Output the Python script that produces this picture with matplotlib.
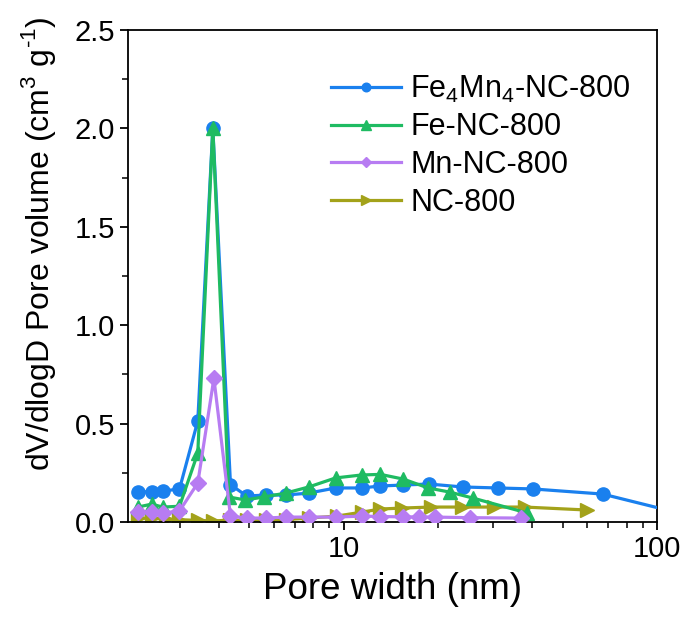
import matplotlib
matplotlib.use("Agg")
import matplotlib.pyplot as plt
from matplotlib.ticker import FixedLocator, FuncFormatter, MultipleLocator

plt.rcParams["font.family"] = ["Liberation Sans", "DejaVu Sans"]
plt.rcParams["mathtext.fontset"] = "custom"
plt.rcParams["mathtext.rm"] = "Liberation Sans"

# Fe4Mn4-NC-800
d_femn = [2.20, 2.44, 2.64, 2.99, 3.42, 3.82, 4.35, 4.90, 5.64, 6.53, 7.73,
          9.42, 11.4, 13.1, 15.5, 18.7, 24.0, 31.0, 40.2, 67.1, 125.0]
v_femn = [0.152, 0.155, 0.157, 0.168, 0.513, 2.0, 0.19, 0.132, 0.137, 0.137,
          0.147, 0.173, 0.173, 0.183, 0.188, 0.193, 0.178, 0.173, 0.168,
          0.142, 0.035]

# Fe-NC-800
d_fe = [2.20, 2.44, 2.64, 2.99, 3.42, 3.82, 4.30, 4.85, 5.55, 6.53, 7.73,
        9.42, 11.4, 13.1, 15.5, 18.6, 21.8, 25.8, 38.5]
v_fe = [0.076, 0.091, 0.076, 0.08, 0.35, 2.0, 0.127, 0.112, 0.127, 0.147,
        0.178, 0.224, 0.239, 0.242, 0.218, 0.173, 0.152, 0.122, 0.046]

# Mn-NC-800
d_mn = [2.20, 2.44, 2.64, 2.99, 3.42, 3.85, 4.35, 4.90, 5.64, 6.53, 7.73,
        9.42, 11.4, 13.1, 15.5, 17.4, 19.6, 25.3, 36.7]
v_mn = [0.05, 0.05, 0.046, 0.056, 0.198, 0.73, 0.03, 0.02, 0.02, 0.025,
        0.025, 0.025, 0.03, 0.028, 0.026, 0.026, 0.025, 0.022, 0.02]

# NC-800
d_nc = [2.20, 2.44, 2.70, 2.99, 3.42, 3.82, 4.35, 4.90, 5.64, 6.53, 7.73,
        9.5, 11.4, 13.1, 15.4, 19.0, 23.8, 30.1, 37.8, 59.7]
v_nc = [0.02, 0.02, 0.015, 0.012, 0.008, 0.005, 0.01, 0.008, 0.01, 0.012,
        0.02, 0.03, 0.05, 0.066, 0.071, 0.076, 0.076, 0.076, 0.076, 0.061]

fig = plt.figure(figsize=(6.89, 6.21), dpi=100)
ax = fig.add_axes([0.186, 0.1594, 0.7675, 0.7923])

lw = 2.3
ax.plot(d_femn, v_femn, "-o", color="#1a80ee", lw=lw, ms=9.5,
        label=r"Fe$_4$Mn$_4$-NC-800", zorder=3)
ax.plot(d_fe, v_fe, "-^", color="#1fbb62", lw=lw, ms=10,
        label="Fe-NC-800", zorder=4)
ax.plot(d_mn, v_mn, "-D", color="#b77cf2", lw=lw, ms=8.5,
        label="Mn-NC-800", zorder=5)
ax.plot(d_nc, v_nc, "->", color="#a3a21a", lw=lw, ms=10,
        label="NC-800", zorder=2)

ax.set_xscale("log")
ax.set_xlim(2.05, 100)
ax.set_ylim(0, 2.5)

ax.xaxis.set_major_locator(FixedLocator([10, 100]))
ax.xaxis.set_minor_locator(FixedLocator([3, 4, 5, 6, 7, 8, 9, 20, 30, 40, 50, 60, 70, 80, 90]))
ax.xaxis.set_major_formatter(FuncFormatter(lambda v, p: "%d" % v))
ax.xaxis.set_minor_formatter(FuncFormatter(lambda v, p: ""))
ax.yaxis.set_major_locator(MultipleLocator(0.5))
ax.yaxis.set_minor_locator(MultipleLocator(0.25))
ax.yaxis.set_major_formatter(FuncFormatter(lambda v, p: "%.1f" % v))

ax.tick_params(which="major", direction="out", length=6, width=1.3,
               labelsize=21, top=False, right=False)
ax.tick_params(which="minor", direction="out", length=4, width=1.1,
               top=False, right=False)
for s in ax.spines.values():
    s.set_linewidth(1.3)

ax.set_xlabel("Pore width (nm)", fontsize=26.5, labelpad=6)
ax.set_ylabel(r"dV/dlogD Pore volume (cm$^3$ g$^{\text{-1}}$)", fontsize=23)
ax.yaxis.set_label_coords(-0.133, 0.565)

ax.legend(loc="upper right", bbox_to_anchor=(0.99, 0.955), frameon=False,
          fontsize=22, markerscale=0.65, handlelength=2.3, labelspacing=0.25,
          handletextpad=0.3, borderaxespad=0.3)

fig.savefig("out.png", dpi=100)
